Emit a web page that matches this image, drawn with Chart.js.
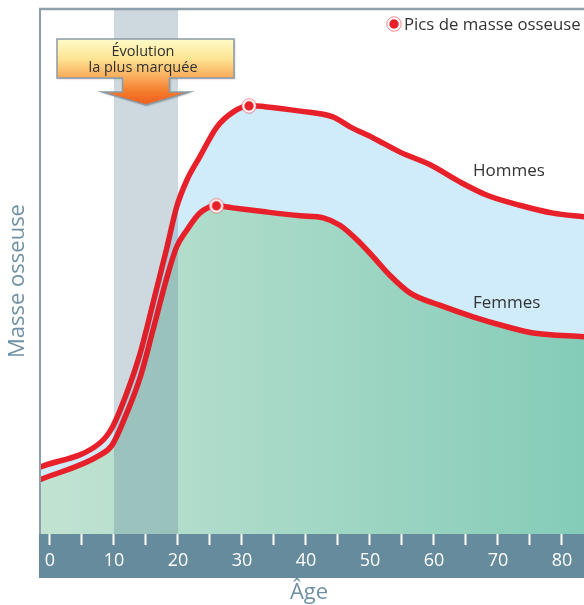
<!DOCTYPE html>
<html lang="fr">
<head>
<meta charset="utf-8">
<title>Masse osseuse selon l'âge</title>
<script src="https://cdn.jsdelivr.net/npm/chart.js@4/dist/chart.umd.min.js"></script>
<style>
  html, body { margin: 0; padding: 0; background: #fff; }
  #wrap { position: relative; width: 584px; height: 605px; }
</style>
</head>
<body>
<div id="wrap"><canvas id="c" width="584" height="605"></canvas></div>
<script>
// Masse osseuse (unités relatives, 0–100) en fonction de l'âge
const hommesAges  = [-1.6, 7.8, 9.7, 12.0, 14.1, 16.1, 18.3, 19.8, 21.4, 23.4, 26.1, 28.6, 31.1, 33.9, 39.1, 44.2, 46.9, 50.5, 54.7, 59.4, 64.1, 68.3, 73.4, 78.6, 83.5];
const hommesMasse = [12.7, 17.3, 20.2, 26.8, 34.4, 43.9, 54.6, 62.2, 67.3, 71.7, 77.4, 80.2, 81.4, 81.2, 80.4, 79.3, 77.4, 75.3, 72.6, 70.2, 66.9, 64.4, 62.5, 61.0, 60.3];
const femmesAges  = [-1.6, 7.8, 9.7, 12.0, 14.1, 16.1, 18.3, 19.8, 21.4, 23.4, 26.0, 28.6, 33.9, 39.1, 42.7, 45.3, 48.0, 50.5, 53.1, 56.3, 60.9, 66.1, 71.4, 75.5, 83.5];
const femmesMasse = [10.3, 15.0, 16.9, 23.0, 29.8, 38.8, 48.9, 54.6, 57.8, 61.0, 62.4, 62.0, 61.2, 60.5, 60.1, 58.7, 55.9, 52.7, 49.2, 45.8, 43.5, 41.3, 39.4, 38.2, 37.5];

// Graduations de l'axe des âges (libellé tous les 10 ans)
const ageTicks = [0, 5, 10, 15, 20, 25, 30, 35, 40, 45, 50, 55, 60, 65, 70, 75, 80];
// Période d'évolution la plus marquée
const bandeAges = [10, 20];

const seriesLabels = ['Hommes', 'Femmes'];
const legendeLabel = 'Pics de masse osseuse';
const calloutLignes = ['Évolution', 'la plus marquée'];
const titreY = 'Masse osseuse';
const titreX = 'Âge';

const ROUGE = '#e8202a';
const FONT = '"Open Sans", "Noto Sans", sans-serif';

const pts = (xs, ys) => xs.map((x, i) => ({ x, y: ys[i] }));
const hommes = pts(hommesAges, hommesMasse);
const femmes = pts(femmesAges, femmesMasse);
const picDe = (serie) => serie.reduce((m, p) => (p.y > m.y ? p : m));
const pics = [picDe(hommes), picDe(femmes)];

// Marqueur des pics : disque rouge cerclé de blanc
function marqueurPic() {
  const c = document.createElement('canvas');
  c.width = 18; c.height = 18;
  const g = c.getContext('2d');
  g.beginPath(); g.arc(9, 9, 7.2, 0, Math.PI * 2);
  g.fillStyle = '#ffffff'; g.fill();
  g.lineWidth = 1; g.strokeStyle = 'rgba(232,32,42,0.55)'; g.stroke();
  g.beginPath(); g.arc(9, 9, 4.7, 0, Math.PI * 2);
  g.fillStyle = ROUGE; g.fill();
  return c;
}
const imgPic = marqueurPic();

const decor = {
  id: 'decor',
  beforeDraw(chart) {
    // bandeau de l'axe des âges
    const { ctx, chartArea: a } = chart;
    ctx.save();
    ctx.fillStyle = '#668b9c';
    ctx.fillRect(a.left - 1, a.bottom, a.right - a.left + 1, 44);
    ctx.restore();
  },
  beforeDatasetsDraw(chart) {
    // bande 10–20 ans, par-dessus les aplats et sous les courbes
    const { ctx, chartArea: a } = chart;
    const x = chart.scales.x;
    const x0 = x.getPixelForValue(bandeAges[0]);
    const x1 = x.getPixelForValue(bandeAges[1]);
    ctx.save();
    ctx.fillStyle = 'rgba(115,155,180,0.3)';
    ctx.fillRect(x0, a.top, x1 - x0, a.bottom - a.top);
    ctx.restore();
  },
  afterDatasetsDraw(chart) {
    const { ctx, chartArea: a } = chart;
    const x = chart.scales.x;
    ctx.save();
    // léger assombrissement des courbes dans la bande
    const x0 = x.getPixelForValue(bandeAges[0]);
    const x1 = x.getPixelForValue(bandeAges[1]);
    ctx.globalCompositeOperation = 'multiply';
    ctx.fillStyle = 'rgba(0,0,0,0.04)';
    ctx.fillRect(x0, a.top, x1 - x0, a.bottom - a.top);
    ctx.globalCompositeOperation = 'source-over';
    // cadre
    ctx.strokeStyle = '#8d9fab';
    ctx.lineWidth = 2.5;
    ctx.beginPath(); ctx.moveTo(a.left - 1, a.top + 1); ctx.lineTo(a.right, a.top + 1); ctx.stroke();
    ctx.lineWidth = 2;
    ctx.beginPath(); ctx.moveTo(a.left, a.top); ctx.lineTo(a.left, a.bottom); ctx.stroke();
    ctx.restore();
  },
  afterDraw(chart) {
    const { ctx } = chart;
    const x = chart.scales.x;
    const cx = x.getPixelForValue((bandeAges[0] + bandeAges[1]) / 2);
    ctx.save();

    // encadré fléché
    const bx0 = 57, bx1 = 234, by0 = 39, by1 = 78;
    const nw = 23.5, hw = 44, ny = 92, tipY = 105;
    ctx.beginPath();
    ctx.moveTo(bx0, by0); ctx.lineTo(bx1, by0); ctx.lineTo(bx1, by1);
    ctx.lineTo(cx + nw, by1); ctx.lineTo(cx + nw, ny); ctx.lineTo(cx + hw, ny);
    ctx.lineTo(cx, tipY);
    ctx.lineTo(cx - hw, ny); ctx.lineTo(cx - nw, ny); ctx.lineTo(cx - nw, by1);
    ctx.lineTo(bx0, by1); ctx.closePath();
    const grad = ctx.createLinearGradient(0, by0, 0, tipY);
    grad.addColorStop(0, '#fffbc9');
    grad.addColorStop(0.3, '#fee493');
    grad.addColorStop(0.58, '#f9ab5a');
    grad.addColorStop(0.8, '#f47b2b');
    grad.addColorStop(1, '#ef5d1e');
    ctx.shadowColor = 'rgba(0,0,0,0.25)';
    ctx.shadowOffsetX = 1; ctx.shadowOffsetY = 1; ctx.shadowBlur = 2;
    ctx.fillStyle = grad; ctx.fill();
    ctx.shadowColor = 'transparent';
    ctx.lineWidth = 1.5; ctx.strokeStyle = '#8a9aa6'; ctx.stroke();

    ctx.fillStyle = '#2f2f2f';
    ctx.font = '14.5px ' + FONT;
    ctx.textAlign = 'center';
    ctx.textBaseline = 'alphabetic';
    ctx.fillText(calloutLignes[0], 143, 56);
    ctx.fillText(calloutLignes[1], 143, 72);

    // noms des courbes
    ctx.font = '17px ' + FONT;
    ctx.fillStyle = '#333333';
    ctx.textAlign = 'left';
    ctx.fillText(seriesLabels[0], 473, 176);
    ctx.fillText(seriesLabels[1], 473, 308);

    // légende
    ctx.drawImage(imgPic, 394 - 9, 24 - 9);
    ctx.font = '16.8px ' + FONT;
    ctx.fillText(legendeLabel, 404, 29.5);

    // titres des axes
    ctx.fillStyle = '#6f91a3';
    ctx.font = '22px ' + FONT;
    ctx.textAlign = 'center';
    ctx.fillText(titreX, 309, 599);
    ctx.translate(18, 281);
    ctx.rotate(-Math.PI / 2);
    ctx.textBaseline = 'middle';
    ctx.fillText(titreY, 0, 0);
    ctx.restore();
  }
};

new Chart(document.getElementById('c'), {
  type: 'line',
  data: {
    datasets: [
      {
        label: legendeLabel,
        data: pics,
        showLine: false,
        pointStyle: imgPic,
        pointRadius: 9,
        pointHoverRadius: 9,
        fill: false,
        order: 0
      },
      {
        label: seriesLabels[0],
        data: hommes,
        borderColor: ROUGE,
        borderWidth: 5.5,
        pointRadius: 0,
        cubicInterpolationMode: 'monotone',
        backgroundColor: '#d0ebf9',
        fill: '+1',
        clip: 0,
        order: 1
      },
      {
        label: seriesLabels[1],
        data: femmes,
        borderColor: ROUGE,
        borderWidth: 5.5,
        pointRadius: 0,
        cubicInterpolationMode: 'monotone',
        backgroundColor: (ctx) => {
          const ca = ctx.chart.chartArea;
          if (!ca) return '#a5d8c5';
          const g = ctx.chart.ctx.createLinearGradient(ca.left, 0, ca.right, 0);
          g.addColorStop(0, '#c2e3d2');
          g.addColorStop(1, '#84ccb8');
          return g;
        },
        fill: 'origin',
        clip: 0,
        order: 2
      }
    ]
  },
  options: {
    responsive: false,
    animation: false,
    layout: { autoPadding: false, padding: { left: 40, top: 8, right: 0, bottom: 0 } },
    plugins: {
      legend: { display: false },
      tooltip: { enabled: false },
      filler: { drawTime: 'beforeDatasetsDraw' }
    },
    scales: {
      x: {
        type: 'linear',
        min: -1.56,
        max: 83.44,
        afterBuildTicks: (s) => { s.ticks = ageTicks.map(v => ({ value: v })); },
        afterFit: (s) => { s.height = 71; s.paddingLeft = 0; s.paddingRight = 0; },
        ticks: {
          autoSkip: false,
          maxRotation: 0,
          padding: 5,
          color: '#ffffff',
          font: { family: FONT, size: 18 },
          callback: (v) => (v % 10 === 0 ? String(v) : '')
        },
        grid: {
          display: true,
          drawOnChartArea: false,
          drawTicks: true,
          tickLength: 11,
          tickWidth: 2,
          tickColor: '#ffffff',
          color: 'rgba(0,0,0,0)'
        },
        border: { display: false }
      },
      y: {
        display: false,
        min: 0,
        max: 100
      }
    }
  },
  plugins: [decor]
});
</script>
</body>
</html>
